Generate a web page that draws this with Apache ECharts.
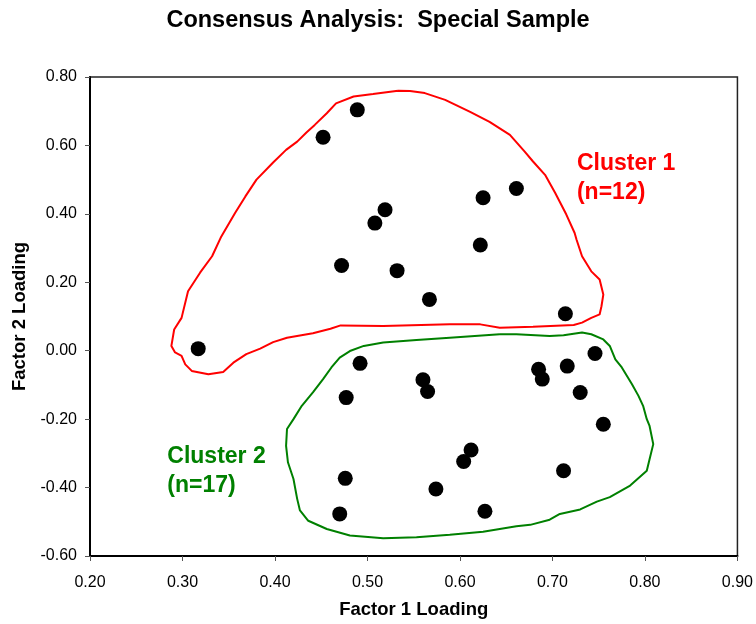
<!DOCTYPE html>
<html>
<head>
<meta charset="utf-8">
<script src="https://cdn.jsdelivr.net/npm/echarts@6/dist/echarts.min.js"></script>
<style>html,body{margin:0;padding:0;background:#fff}#c{width:756px;height:624px}</style>
</head>
<body>
<div id="c"></div>
<script>
var titleText = 'Consensus Analysis:  Special Sample';
var xAxisName = 'Factor 1 Loading';
var yAxisName = 'Factor 2 Loading';
var xTicks = [0.2, 0.3, 0.4, 0.5, 0.6, 0.7, 0.8, 0.9];
var yTicks = [-0.6, -0.4, -0.2, 0, 0.2, 0.4, 0.6, 0.8];

var cluster1Points = [
  [0.489, 0.704], [0.452, 0.624], [0.519, 0.412], [0.508, 0.373],
  [0.472, 0.249], [0.532, 0.234], [0.567, 0.150], [0.625, 0.447],
  [0.661, 0.474], [0.622, 0.309], [0.714, 0.108], [0.317, 0.006]
];
var cluster2Points = [
  [0.492, -0.037], [0.477, -0.137], [0.560, -0.085], [0.565, -0.119],
  [0.685, -0.054], [0.689, -0.083], [0.716, -0.045], [0.746, -0.008],
  [0.730, -0.122], [0.755, -0.215], [0.612, -0.290], [0.604, -0.324],
  [0.712, -0.351], [0.476, -0.373], [0.574, -0.404], [0.470, -0.477],
  [0.627, -0.469]
];

var cluster1Outline = [
  [0.533, 0.760], [0.506, 0.750], [0.485, 0.743], [0.466, 0.723], [0.456, 0.694],
  [0.443, 0.660], [0.434, 0.638], [0.424, 0.611], [0.412, 0.587], [0.398, 0.550],
  [0.380, 0.500], [0.368, 0.451], [0.357, 0.403], [0.342, 0.334], [0.332, 0.276],
  [0.319, 0.228], [0.306, 0.174], [0.299, 0.096], [0.291, 0.062], [0.288, 0.014],
  [0.292, -0.005], [0.299, -0.015], [0.303, -0.040], [0.310, -0.059], [0.328, -0.069],
  [0.344, -0.062], [0.355, -0.035], [0.369, -0.010], [0.384, 0.006], [0.398, 0.025],
  [0.413, 0.038], [0.441, 0.051], [0.460, 0.064], [0.471, 0.074], [0.517, 0.072],
  [0.589, 0.077], [0.622, 0.077], [0.643, 0.067], [0.679, 0.070], [0.723, 0.075],
  [0.732, 0.082], [0.742, 0.096], [0.751, 0.106], [0.753, 0.130], [0.755, 0.164],
  [0.751, 0.208], [0.742, 0.232], [0.732, 0.276], [0.726, 0.325], [0.724, 0.344],
  [0.715, 0.398], [0.703, 0.461], [0.692, 0.514], [0.679, 0.553], [0.670, 0.582],
  [0.654, 0.631], [0.632, 0.669], [0.611, 0.698], [0.584, 0.733], [0.562, 0.753],
  [0.546, 0.759], [0.533, 0.760]
];
var cluster2Outline = [
  [0.643, 0.048], [0.589, 0.038], [0.553, 0.031], [0.517, 0.024], [0.496, 0.014],
  [0.481, -0.001], [0.470, -0.020], [0.461, -0.049], [0.452, -0.083], [0.441, -0.122],
  [0.429, -0.161], [0.420, -0.200], [0.413, -0.229], [0.412, -0.278], [0.414, -0.326],
  [0.420, -0.375], [0.424, -0.433], [0.427, -0.467], [0.436, -0.497], [0.456, -0.521],
  [0.481, -0.540], [0.517, -0.548], [0.553, -0.545], [0.589, -0.538], [0.625, -0.529],
  [0.661, -0.513], [0.676, -0.509], [0.697, -0.494], [0.708, -0.477], [0.730, -0.464],
  [0.748, -0.441], [0.762, -0.428], [0.784, -0.394], [0.802, -0.351], [0.805, -0.317],
  [0.809, -0.273], [0.805, -0.220], [0.802, -0.200], [0.798, -0.161], [0.793, -0.132],
  [0.786, -0.098], [0.775, -0.049], [0.768, -0.025], [0.762, 0.014], [0.755, 0.033],
  [0.742, 0.048], [0.732, 0.053], [0.712, 0.045], [0.697, 0.043], [0.661, 0.048],
  [0.643, 0.048]
];

var clusterLabels = [
  { name: 'Cluster 1\n(n=12)', value: [0.7265, 0.5055], color: '#ff0000' },
  { name: 'Cluster 2\n(n=17)', value: [0.2836, -0.351], color: '#008000' }
];

var FONT = '"Liberation Sans", Arial, Helvetica, sans-serif';
var chart = echarts.init(document.getElementById('c'), null, { renderer: 'canvas' });
chart.setOption({
  animation: false,
  backgroundColor: '#ffffff',
  title: {
    text: titleText, left: 'center', top: 4,
    textStyle: { fontFamily: FONT, fontWeight: 'bold', fontSize: 23.5, color: '#000' }
  },
  grid: { left: 90, right: 18, top: 77, bottom: 67, show: true, borderColor: '#222', borderWidth: 1.5, backgroundColor: 'transparent' },
  xAxis: {
    type: 'value', min: xTicks[0], max: xTicks[xTicks.length - 1], interval: 0.1,
    name: xAxisName, nameLocation: 'middle', nameGap: 44,
    nameTextStyle: { fontFamily: FONT, fontWeight: 'bold', fontSize: 18.5, color: '#000' },
    axisLine: { show: true, onZero: false, lineStyle: { color: '#000', width: 2 } },
    axisTick: { show: true, inside: false, length: 5, lineStyle: { color: '#555', width: 1 } },
    splitLine: { show: false },
    axisLabel: { margin: 19, fontFamily: FONT, fontSize: 16, color: '#000', formatter: function (v) { return v.toFixed(2); } }
  },
  yAxis: {
    type: 'value', min: yTicks[0], max: yTicks[yTicks.length - 1], interval: 0.2,
    name: yAxisName, nameLocation: 'middle', nameGap: 60, nameRotate: 90,
    nameTextStyle: { fontFamily: FONT, fontWeight: 'bold', fontSize: 18.5, color: '#000' },
    axisLine: { show: true, onZero: false, lineStyle: { color: '#000', width: 2 } },
    axisTick: { show: true, inside: false, length: 5, lineStyle: { color: '#555', width: 1 } },
    splitLine: { show: false },
    axisLabel: { margin: 13, fontFamily: FONT, fontSize: 16, color: '#000', formatter: function (v) { return v.toFixed(2); } }
  },
  series: [
    { type: 'line', data: cluster1Outline, showSymbol: false, symbol: 'none', lineStyle: { color: '#ff0000', width: 2 }, z: 2 },
    { type: 'line', data: cluster2Outline, showSymbol: false, symbol: 'none', lineStyle: { color: '#008000', width: 2 }, z: 2 },
    { type: 'scatter', data: cluster1Points, symbol: 'circle', symbolSize: 15, itemStyle: { color: '#000', opacity: 1 }, z: 3 },
    { type: 'scatter', data: cluster2Points, symbol: 'circle', symbolSize: 15, itemStyle: { color: '#000', opacity: 1 }, z: 3 },
    {
      type: 'scatter', symbolSize: 0, silent: true, z: 4, itemStyle: { opacity: 1 },
      data: clusterLabels.map(function (d) {
        return {
          name: d.name, value: d.value,
          label: {
            show: true, position: 'inside', align: 'left', verticalAlign: 'middle',
            formatter: '{b}', color: d.color, fontFamily: FONT, fontWeight: 'bold', fontSize: 23, lineHeight: 29
          }
        };
      })
    }
  ]
});
</script>
</body>
</html>
